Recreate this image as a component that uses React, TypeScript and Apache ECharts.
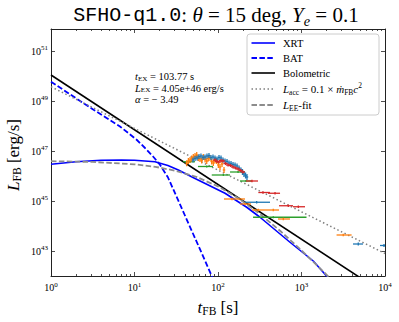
import React, { useEffect, useRef } from 'react';
import * as echarts from 'echarts';

// ---- axis ticks (log10 units) ----
const xMajorTicks = [0, 1, 2, 3, 4];
const xMinorMantissas = [2, 3, 4, 5, 6, 7, 8, 9];
const yMajorTicks = [43, 45, 47, 49, 51];
const xRange = [0, 4];
const yRange = [42, 51.88];

// ---- model curves (log10 t [s], log10 L [erg/s]) ----
const xrtLogT = [0, 0.3, 0.6, 0.846, 1.0, 1.245, 1.4, 1.525, 1.725, 2.084, 2.344, 2.503, 2.862, 3.141, 3.3, 3.36];
const xrtLogL = [46.47, 46.57, 46.63, 46.64, 46.63, 46.57, 46.42, 46.24, 45.9, 45.31, 44.75, 44.35, 43.35, 42.6, 42.0, 41.75];

const batLogT = [0, 0.5, 0.826, 1.026, 1.126, 1.225, 1.305, 1.4, 1.5, 1.6, 1.7, 1.8, 1.925, 2.0];
const batLogL = [49.77, 48.67, 47.98, 47.45, 47.12, 46.77, 46.45, 45.95, 45.2, 44.45, 43.7, 42.95, 42.0, 41.45];

const boloLogT = [0, 4];
const boloLogL = [50.04, 41.28];

const accLogT = [0, 4];
const accLogL = [49.57, 42.9];

const eeLogT = [0, 0.5, 1, 1.25, 1.5, 1.75, 2, 2.25, 2.5, 2.75, 3, 3.25, 3.35];
const eeLogL = [46.593, 46.562, 46.468, 46.368, 46.204, 45.951, 45.585, 45.095, 44.488, 43.789, 43.024, 42.215, 41.88];

// ---- observed points: [log t, log L, log t_lo, log t_hi, dlogL] ----
const greenPts = [
  [1.665, 46.57, 1.581, 1.725, 0.04],
  [1.865, 46.38, 1.76, 1.94, 0.04],
  [2.064, 46.04, 1.925, 2.144, 0.04],
  [2.24, 46.16, 2.144, 2.323, 0.04],
  [2.335, 45.8, 2.263, 2.407, 0.04],
  [2.662, 44.35, 2.42, 3.06, 0.04],
];
const orangePts = [
  [1.625, 46.51, 1.61, 1.64, 0.12],
  [1.645, 46.6, 1.63, 1.66, 0.12],
  [1.665, 46.64, 1.65, 1.68, 0.12],
  [1.685, 46.7, 1.67, 1.7, 0.12],
  [1.704, 46.76, 1.689, 1.719, 0.12],
  [1.725, 46.8, 1.71, 1.74, 0.12],
  [1.745, 46.84, 1.73, 1.76, 0.12],
  [1.764, 46.72, 1.749, 1.779, 0.12],
  [1.784, 46.68, 1.769, 1.799, 0.12],
  [1.804, 46.62, 1.789, 1.819, 0.12],
  [1.824, 46.76, 1.809, 1.839, 0.12],
  [1.845, 46.66, 1.83, 1.86, 0.12],
  [1.865, 46.6, 1.85, 1.88, 0.12],
  [1.884, 46.7, 1.869, 1.899, 0.12],
  [1.904, 46.72, 1.889, 1.919, 0.12],
  [1.924, 46.58, 1.909, 1.939, 0.12],
  [1.944, 46.52, 1.929, 1.959, 0.12],
  [1.964, 46.62, 1.949, 1.979, 0.12],
  [1.984, 46.6, 1.969, 1.999, 0.12],
  [2.004, 46.44, 1.989, 2.019, 0.12],
  [2.024, 46.36, 2.009, 2.039, 0.12],
  [2.048, 46.48, 2.033, 2.063, 0.12],
  [2.072, 46.24, 2.057, 2.087, 0.12],
  [2.168, 45.08, 2.072, 2.323, 0.05],
  [2.323, 44.88, 2.263, 2.395, 0.05],
  [2.483, 44.64, 2.407, 2.563, 0.05],
  [2.662, 44.64, 2.563, 2.731, 0.05],
  [2.782, 44.28, 2.719, 2.862, 0.05],
  [3.5, 43.64, 3.42, 3.6, 0.05],
];
const bluePts = [
  [1.701, 46.64, 1.686, 1.716, 0.1],
  [1.725, 46.7, 1.71, 1.74, 0.1],
  [1.749, 46.72, 1.734, 1.764, 0.1],
  [1.772, 46.78, 1.757, 1.787, 0.1],
  [1.796, 46.8, 1.781, 1.811, 0.1],
  [1.82, 46.74, 1.805, 1.835, 0.1],
  [1.844, 46.76, 1.829, 1.859, 0.1],
  [1.868, 46.8, 1.853, 1.883, 0.1],
  [1.892, 46.82, 1.877, 1.907, 0.1],
  [1.916, 46.74, 1.901, 1.931, 0.1],
  [1.94, 46.76, 1.925, 1.955, 0.1],
  [1.964, 46.72, 1.949, 1.979, 0.1],
  [1.988, 46.68, 1.973, 2.003, 0.1],
  [2.012, 46.74, 1.997, 2.027, 0.1],
  [2.036, 46.72, 2.021, 2.051, 0.1],
  [2.06, 46.64, 2.045, 2.075, 0.1],
  [2.084, 46.6, 2.069, 2.099, 0.1],
  [2.108, 46.58, 2.093, 2.123, 0.1],
  [2.132, 46.52, 2.117, 2.147, 0.1],
  [2.156, 46.5, 2.141, 2.171, 0.1],
  [2.18, 46.46, 2.165, 2.195, 0.1],
  [2.204, 46.44, 2.189, 2.219, 0.1],
  [2.228, 46.4, 2.213, 2.243, 0.1],
  [2.252, 46.32, 2.237, 2.267, 0.1],
  [2.275, 46.24, 2.26, 2.29, 0.1],
  [2.293, 46.16, 2.278, 2.308, 0.12],
  [2.311, 46.08, 2.296, 2.326, 0.12],
  [2.33, 46.02, 2.315, 2.345, 0.12],
  [2.347, 45.96, 2.332, 2.362, 0.12],
  [2.463, 44.95, 2.323, 2.623, 0.05],
  [3.68, 43.28, 3.617, 3.737, 0.06],
  [3.988, 43.22, 3.94, 4.08, 0.06],
];
const redPts = [
  [1.964, 46.64, 1.939, 1.989, 0.06],
  [1.988, 46.58, 1.963, 2.013, 0.06],
  [2.012, 46.56, 1.987, 2.037, 0.06],
  [2.036, 46.62, 2.011, 2.061, 0.06],
  [2.06, 46.6, 2.035, 2.085, 0.06],
  [2.09, 46.5, 2.065, 2.115, 0.06],
  [2.12, 46.44, 2.095, 2.145, 0.06],
  [2.15, 46.42, 2.125, 2.175, 0.06],
  [2.18, 46.36, 2.155, 2.205, 0.06],
  [2.21, 46.32, 2.185, 2.235, 0.06],
  [2.24, 46.28, 2.215, 2.265, 0.06],
  [2.27, 46.22, 2.245, 2.295, 0.06],
  [2.299, 46.16, 2.274, 2.324, 0.06],
  [2.407, 45.8, 2.335, 2.479, 0.05],
  [2.539, 45.34, 2.483, 2.623, 0.05],
  [2.683, 45.31, 2.599, 2.743, 0.05],
  [2.842, 44.81, 2.731, 2.898, 0.05],
  [2.962, 44.77, 2.898, 3.042, 0.05],
];

const SERIF = 'Liberation Serif';
const MONO = 'Liberation Mono';

function mathRich(size: number, lhf: number, ttSize = size) {
  const lh = size * lhf;
  const s = size * 0.68;
  return {
    rm: { fontFamily: SERIF, fontSize: size, lineHeight: lh, color: '#000' },
    it: { fontFamily: SERIF, fontStyle: 'italic', fontSize: size, lineHeight: lh, color: '#000' },
    tt: { fontFamily: MONO, fontSize: ttSize, lineHeight: lh, color: '#000' },
    sub: { fontFamily: SERIF, fontSize: s, lineHeight: s * 0.75, verticalAlign: 'bottom', color: '#000' },
    subit: { fontFamily: SERIF, fontStyle: 'italic', fontSize: s, lineHeight: s * 0.75, verticalAlign: 'bottom', color: '#000' },
    sup: { fontFamily: SERIF, fontSize: s, lineHeight: s, verticalAlign: 'top', color: '#000' },
  };
}

function mtext(text: string, x: number, y: number, size: number, align = 'left', rotation = 0, lhf = 1.25, ttSize = size) {
  return {
    type: 'text',
    x,
    y,
    rotation,
    z: 100,
    style: {
      text,
      rich: mathRich(size, lhf, ttSize),
      align,
      textAlign: align,
      verticalAlign: 'middle',
      textVerticalAlign: 'middle',
      fontFamily: SERIF,
      fontSize: size,
    },
  };
}

const pair = (xs: number[], ys: number[]) => xs.map((v, i) => [v, ys[i]]);

function errSeries(name: string, pts: number[][], color: string) {
  return {
    type: 'custom',
    name,
    clip: true,
    z: 5,
    data: pts,
    encode: { x: 0, y: 1 },
    renderItem: (params: any, api: any) => {
      const x = api.value(0);
      const y = api.value(1);
      const x0 = api.value(2);
      const x1 = api.value(3);
      const dy = api.value(4);
      const a = api.coord([x0, y]);
      const b = api.coord([x1, y]);
      const c = api.coord([x, y - dy]);
      const d = api.coord([x, y + dy]);
      const st = { stroke: color, lineWidth: 1.3 };
      return {
        type: 'group',
        children: [
          { type: 'line', shape: { x1: a[0], y1: a[1], x2: b[0], y2: b[1] }, style: st },
          { type: 'line', shape: { x1: c[0], y1: c[1], x2: d[0], y2: d[1] }, style: st },
        ],
      };
    },
  };
}

function lineSeries(name: string, data: number[][], color: string, type: any, width: number) {
  return {
    type: 'line',
    name,
    data,
    showSymbol: false,
    symbol: 'none',
    clip: true,
    z: 3,
    lineStyle: { color, width, type, cap: 'butt' },
  };
}

const AX = '#222';
const xMinor: number[] = [];
for (let k = 0; k < 4; k++) xMinorMantissas.forEach((m) => xMinor.push(k + Math.log10(m)));

const tickLabelRich = {
  b: { fontFamily: SERIF, fontSize: 10, lineHeight: 13, color: '#000' },
  s: { fontFamily: SERIF, fontSize: 7, lineHeight: 7, verticalAlign: 'top', color: '#000' },
};

function xAxisDef(position: string, major: boolean, labels: boolean) {
  return {
    type: 'value',
    position,
    min: xRange[0],
    max: xRange[1],
    splitLine: { show: false },
    axisLine: { show: major, onZero: false, lineStyle: { color: AX, width: 1 } },
    axisTick: {
      show: true,
      inside: true,
      length: major ? 4 : 2,
      customValues: major ? xMajorTicks : xMinor,
      lineStyle: { color: AX, width: 0.8 },
    },
    axisLabel: {
      show: labels,
      customValues: xMajorTicks,
      margin: 5,
      showMinLabel: true,
      showMaxLabel: true,
      formatter: (v: number) => `{b|10}{s|${Math.round(v)}}`,
      rich: tickLabelRich,
    },
  };
}

function yAxisDef(position: string, labels: boolean) {
  return {
    type: 'value',
    position,
    min: yRange[0],
    max: yRange[1],
    splitLine: { show: false },
    axisLine: { show: true, onZero: false, lineStyle: { color: AX, width: 1 } },
    axisTick: { show: true, inside: true, length: 4, customValues: yMajorTicks, lineStyle: { color: AX, width: 0.8 } },
    axisLabel: {
      show: labels,
      customValues: yMajorTicks,
      margin: 3,
      formatter: (v: number) => `{b|10}{s|${Math.round(v)}}`,
      rich: tickLabelRich,
    },
  };
}

const LX0 = 251.5;
const LX1 = 275;
const LTX = 283;
const legendRows = [43, 58, 73, 89, 105];

const option: any = {
  animation: false,
  backgroundColor: '#fff',
  grid: { left: 51, top: 29, right: 14, bottom: 46, containLabel: false },
  xAxis: [
    xAxisDef('bottom', true, true),
    xAxisDef('top', true, false),
    xAxisDef('bottom', false, false),
    xAxisDef('top', false, false),
  ],
  yAxis: [yAxisDef('left', true), yAxisDef('right', false)],
  series: [
    lineSeries('XRT', pair(xrtLogT, xrtLogL), '#0000ff', 'solid', 1.6),
    lineSeries('BAT', pair(batLogT, batLogL), '#0000ff', [5.5, 2.4], 1.8),
    lineSeries('Bolometric', pair(boloLogT, boloLogL), '#000000', 'solid', 1.6),
    lineSeries('Lacc', pair(accLogT, accLogL), '#808080', [1.5, 2.5], 1.5),
    lineSeries('LEE', pair(eeLogT, eeLogL), '#8c8c8c', [5.5, 2.4], 1.8),
    errSeries('g', greenPts, '#2ca02c'),
    errSeries('o', orangePts, '#ff7f0e'),
    errSeries('b', bluePts, '#1f77b4'),
    errSeries('r', redPts, '#d62728'),
  ],
  graphic: [
    mtext('{tt|SFHO-q1.0}{rm|: }{it|θ}{rm| = 15 deg, }{it|Y}{subit|e}{rm| = 0.1}', 216, 15, 21, 'center', 0, 1.25, 20),
    mtext('{it|t}{sub|FB}{rm| [s]}', 218, 307, 17, 'center'),
    mtext('{it|L}{sub|FB}{rm| [erg/s]}', 13, 155, 17, 'center', Math.PI / 2),
    mtext(
      '{it|t}{sub|EX}{rm| = 103.77 s}\n{it|L}{sub|EX}{rm| = 4.05e+46 erg/s}\n{it|α}{rm| = − 3.49}',
      135,
      88,
      10.5,
      'left',
      0,
      1.13
    ),
    {
      type: 'rect',
      z: 90,
      shape: { x: 247, y: 34, width: 132, height: 81, r: 3 },
      style: { fill: 'rgba(255,255,255,0.85)', stroke: '#cccccc', lineWidth: 1 },
    },
    { type: 'line', z: 95, shape: { x1: LX0, y1: legendRows[0], x2: LX1, y2: legendRows[0] }, style: { stroke: '#0000ff', lineWidth: 1.6 } },
    { type: 'line', z: 95, shape: { x1: LX0, y1: legendRows[1], x2: LX1, y2: legendRows[1] }, style: { stroke: '#0000ff', lineWidth: 1.8, lineDash: [5.5, 2.4] } },
    { type: 'line', z: 95, shape: { x1: LX0, y1: legendRows[2], x2: LX1, y2: legendRows[2] }, style: { stroke: '#000000', lineWidth: 1.6 } },
    { type: 'line', z: 95, shape: { x1: LX0, y1: legendRows[3], x2: LX1, y2: legendRows[3] }, style: { stroke: '#808080', lineWidth: 1.5, lineDash: [1.5, 2.5] } },
    { type: 'line', z: 95, shape: { x1: LX0, y1: legendRows[4], x2: LX1, y2: legendRows[4] }, style: { stroke: '#8c8c8c', lineWidth: 1.8, lineDash: [5.5, 2.4] } },
    mtext('{rm|XRT}', LTX, legendRows[0], 10.5),
    mtext('{rm|BAT}', LTX, legendRows[1], 10.5),
    mtext('{rm|Bolometric}', LTX, legendRows[2], 10.5),
    mtext('{it|L}{sub|acc}{rm| = 0.1 × }{it|ṁ}{sub|FB}{it|c}{sup|2}', LTX, legendRows[3], 11),
    mtext('{it|L}{sub|EE}{rm|-fit}', LTX, legendRows[4], 11),
  ],
};

export default function App() {
  const ref = useRef<HTMLDivElement>(null);
  useEffect(() => {
    const chart = echarts.init(ref.current as HTMLDivElement, null, { renderer: 'svg' });
    chart.setOption(option);
    return () => chart.dispose();
  }, []);
  return <div ref={ref} style={{ position: 'absolute', left: 0, top: 0, width: 399, height: 322 }} />;
}
